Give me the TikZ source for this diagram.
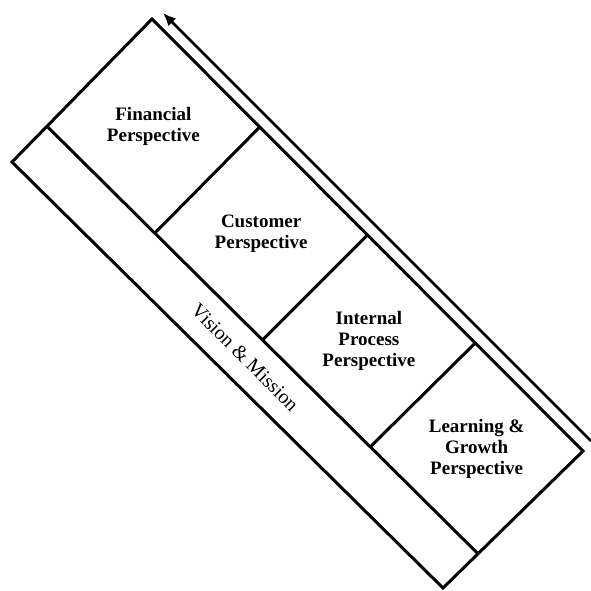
\documentclass[tikz,border=0pt]{standalone}
\usepackage{fontspec}
\setmainfont{Liberation Serif}
\usetikzlibrary{calc,arrows.meta}
\tikzset{
  frame/.style={line width=3pt, line join=miter},
  lbl/.style={align=center, inner sep=0pt, font=\bfseries\fontsize{19}{21}\selectfont},
  vlbl/.style={inner sep=0pt, rotate=-45, font=\fontsize{20}{22}\selectfont},
  flow/.style={line width=2.6pt, -{Latex[length=13pt,width=11pt]}}
}
\begin{document}
\begin{tikzpicture}[x=1pt,y=-1pt]
\useasboundingbox (0,0) rectangle (591,591);
% outer corners
\coordinate (L) at (12,162);
\coordinate (T) at (152,19);
\coordinate (R) at (583,451);
\coordinate (B) at (443,588);
% inner line ends
\coordinate (I0) at ($(L)!0.25!(T)$);
\coordinate (I1) at ($(B)!0.25!(R)$);
% outer rectangle
\draw[frame] (L) -- (T) -- (R) -- (B) -- cycle;
% inner line separating vision strip
\draw[frame] (I0) -- (I1);
% dividers
\foreach \k in {0.25,0.5,0.75}{
  \draw[frame] ($(I0)!\k!(I1)$) -- ($(T)!\k!(R)$);
}
% labels
\node[lbl] (fin) at ($($(I0)!0.125!(I1)$)!0.5!($(T)!0.125!(R)$)$) {Financial\\Perspective};
\node[lbl] (cus) at ($($(I0)!0.375!(I1)$)!0.5!($(T)!0.375!(R)$)$) {Customer\\Perspective};
\node[lbl] (int) at ($($(I0)!0.625!(I1)$)!0.5!($(T)!0.625!(R)$)$) {Internal\\Process\\Perspective};
\node[lbl] (lrn) at ($($(I0)!0.875!(I1)$)!0.5!($(T)!0.875!(R)$)$) {Learning \&\\Growth\\Perspective};
\node[vlbl] (vis) at ($($(L)!0.125!(T)$)!0.5!($(B)!0.125!(R)$)$) {Vision \& Mission};
% arrow
\coordinate (A0) at (591,441);
\coordinate (A1) at (163,13);
\draw[flow] (A0) -- (A1);
\end{tikzpicture}
\end{document}
